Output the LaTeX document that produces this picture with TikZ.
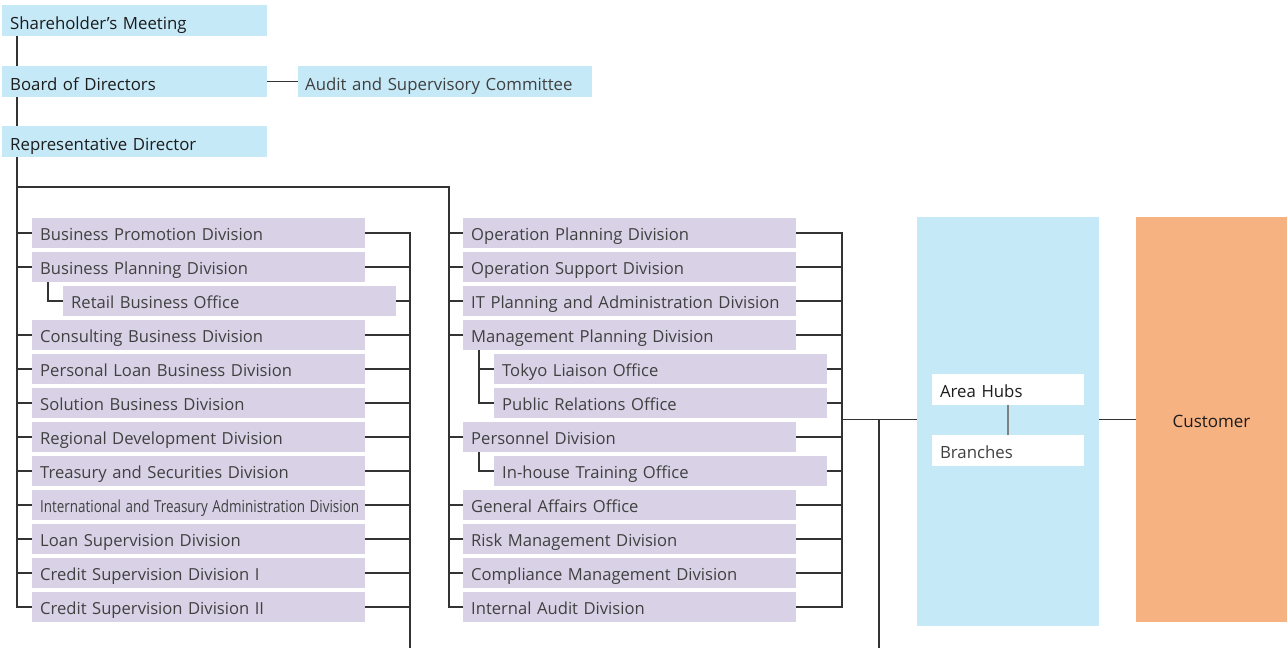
\documentclass[tikz,border=0pt]{standalone}
\usepackage{fontspec}
\setmainfont{Open Sans}
\usetikzlibrary{positioning}
\definecolor{hdrblue}{HTML}{C6E9F8}
\definecolor{divlav}{HTML}{D9D2E7}
\definecolor{custorange}{HTML}{F7B282}
\definecolor{linedark}{HTML}{333333}
\definecolor{txtdark}{HTML}{1C1C1C}
\definecolor{txtgray}{HTML}{404040}
\newcommand\squeeze[1]{\scalebox{0.81}[1]{#1}}
\tikzset{
    topbox/.style={fill=hdrblue, minimum height=31pt, inner xsep=8pt, inner ysep=0pt, text height=19pt, text depth=2pt, align=left, anchor=west, text=txtdark, font=\fontsize{16.8}{20}\selectfont},
    divbox/.style={fill=divlav, minimum height=30pt, text width=317pt, inner xsep=8pt, inner ysep=0pt, text height=17pt, text depth=2.5pt, align=left, anchor=west, text=txtgray, font=\fontsize{16.6}{20}\selectfont},
    hubbox/.style={fill=white, minimum height=31pt, text width=136pt, inner xsep=8pt, inner ysep=0pt, text height=17.5pt, text depth=2.5pt, align=left, text=txtdark, font=\fontsize{16.8}{20}\selectfont},
    link/.style={draw=linedark, line width=1.1pt}
}
\begin{document}
\begin{tikzpicture}[x=1pt, y=-1pt]
    \useasboundingbox (0,0) rectangle (1287,648);
    \coordinate (spineL) at (17,187);
    \coordinate (spineM) at (449,187);
    \coordinate (busL) at (410,648);
    \coordinate (busM) at (842,607);
    \coordinate (tail) at (879,648);
    \node[topbox, text width=249pt] (share) at (2,20.5) {Shareholder’s Meeting};
    \node[topbox, text width=249pt] (board) at (2,81.5) {Board of Directors};
    \node[topbox, text width=280pt, inner xsep=7pt, text=txtgray] (audit) at (298,81.5) {Audit and Supervisory Committee};
    \node[topbox, text width=249pt] (rep) at (2,141.5) {Representative Director};
    \draw[link] (share.south -| spineL) -- (board.north -| spineL);
    \draw[link] (board.south -| spineL) -- (rep.north -| spineL);
    \draw[link] (board.east) -- (audit.west);
    \foreach \txt/\sub [count=\i] in {Business Promotion Division/0, Business Planning Division/0, Retail Business Office/1, Consulting Business Division/0, Personal Loan Business Division/0, Solution Business Division/0, Regional Development Division/0, Treasury and Securities Division/0, {\squeeze{International and Treasury Administration Division}}/0, Loan Supervision Division/0, Credit Supervision Division I/0, Credit Supervision Division II/0} {
        \ifnum\sub=0
            \node[divbox] (l\i) at (32,{233+34*(\i-1)}) {\txt};
            \draw[link] (l\i.west -| spineL) -- (l\i.west);
        \else
            \node[divbox] (l\i) at (63,{233+34*(\i-1)}) {\txt};
        \fi
        \draw[link] (l\i.east) -- (l\i.east -| busL);
    }
    \foreach \txt/\sub [count=\i] in {Operation Planning Division/0, Operation Support Division/0, IT Planning and Administration Division/0, Management Planning Division/0, Tokyo Liaison Office/1, Public Relations Office/1, Personnel Division/0, In-house Training Office/1, General Affairs Office/0, Risk Management Division/0, Compliance Management Division/0, Internal Audit Division/0} {
        \ifnum\sub=0
            \node[divbox] (m\i) at (463,{233+34*(\i-1)}) {\txt};
            \draw[link] (m\i.west -| spineM) -- (m\i.west);
        \else
            \node[divbox] (m\i) at (494,{233+34*(\i-1)}) {\txt};
        \fi
        \draw[link] (m\i.east) -- (m\i.east -| busM);
    }
    \coordinate (planstem) at ([xshift=16pt]l2.south west);
    \coordinate (mgmtstem) at ([xshift=16pt]m4.south west);
    \coordinate (persstem) at ([xshift=16pt]m7.south west);
    \draw[link] (rep.south -| spineL) |- (l12.west);
    \draw[link] (spineL) -- (spineM) |- (m12.west);
    \draw[link] (l1.east) -| (busL);
    \draw[link] (m1.east) -| (busM) -- (m12.east);
    \draw[link] (planstem) |- (l3.west);
    \draw[link] (mgmtstem) |- (m6.west);
    \draw[link] (m5.west -| mgmtstem) -- (m5.west);
    \draw[link] (persstem) |- (m8.west);
    \node[fill=hdrblue, minimum width=182pt, minimum height=409pt, inner sep=0pt] (area) at (1008,421.5) {};
    \node[fill=custorange, minimum width=151pt, minimum height=405pt, inner sep=0pt, text height=17.5pt, text depth=2.5pt, text=txtdark, font=\fontsize{17}{20}\selectfont] (cust) at (1211.5,419.5) {Customer};
    \node[hubbox] (hubs) at (1008,389.5) {Area Hubs};
    \node[hubbox, text=txtgray] (branch) at (1008,450.5) {Branches};
    \draw[draw=gray, line width=1.3pt] (hubs) -- (branch);
    \draw[link] (busM |- cust.west) -- (area.west |- cust.west);
    \draw[link] (tail |- cust.west) -- (tail);
    \draw[link] (area.east |- cust.west) -- (cust.west);
\end{tikzpicture}
\end{document}
